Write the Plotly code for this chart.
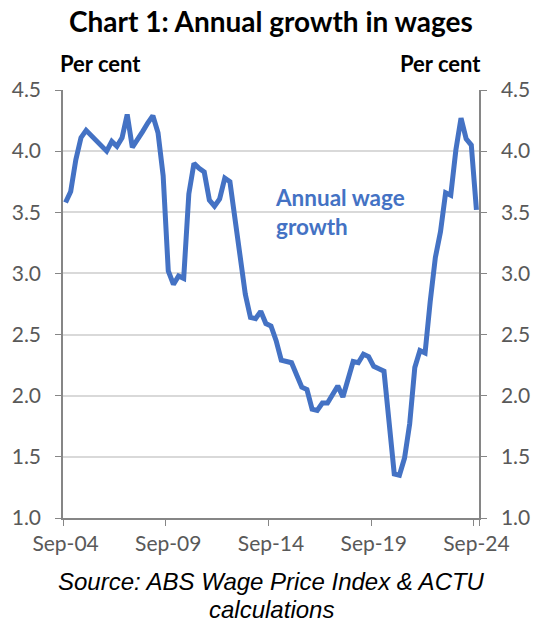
import plotly.graph_objects as go

# Quarterly categories, Sep-04 to Sep-24
month_names = ["Mar", "Jun", "Sep", "Dec"]
quarters = []
year, qi = 2004, 2
for _ in range(81):
    quarters.append(f"{month_names[qi]}-{year % 100:02d}")
    qi += 1
    if qi == 4:
        qi, year = 0, year + 1

# Annual wage growth, per cent
wage_growth = [
    3.58, 3.67, 3.93, 4.11, 4.17, 4.13, 4.09, 4.04, 4.00, 4.08,
    4.04, 4.11, 4.30, 4.03, 4.09, 4.16, 4.23, 4.29, 4.15, 3.80,
    3.02, 2.91, 2.98, 2.96, 3.65, 3.90, 3.86, 3.83, 3.60, 3.55,
    3.61, 3.78, 3.75, 3.45, 3.14, 2.83, 2.64, 2.63, 2.69, 2.59,
    2.57, 2.45, 2.29, 2.28, 2.27, 2.17, 2.07, 2.05, 1.89, 1.88,
    1.94, 1.94, 2.02, 2.08, 1.99, 2.13, 2.28, 2.27, 2.34, 2.32,
    2.24, 2.22, 2.20, 1.78, 1.36, 1.35, 1.49, 1.77, 2.23, 2.37,
    2.35, 2.77, 3.13, 3.34, 3.66, 3.64, 4.01, 4.27, 4.10, 4.05,
    3.52,
]

x_tick_labels = ["Sep-04", "Sep-09", "Sep-14", "Sep-19", "Sep-24"]
y_ticks = [1.0, 1.5, 2.0, 2.5, 3.0, 3.5, 4.0, 4.5]

BLUE = "#4472C4"
AXIS = "#868686"
GRID = "#D9D9D9"
SANS = "Lato, Carlito, Arial"
TICKFONT = dict(family=SANS, size=21, color="#595959")

fig = go.Figure()
fig.add_trace(go.Scatter(
    x=quarters, y=wage_growth, mode="lines",
    line=dict(color=BLUE, width=5), hoverinfo="x+y",
))
# same series on the right-hand axis so it is drawn
fig.add_trace(go.Scatter(
    x=quarters, y=wage_growth, mode="lines", yaxis="y2",
    line=dict(color="rgba(0,0,0,0)", width=0), hoverinfo="skip",
))

fig.update_layout(
    width=534, height=626,
    margin=dict(l=63, r=55, t=90, b=108, autoexpand=False),
    paper_bgcolor="white", plot_bgcolor="white",
    showlegend=False,
    xaxis=dict(
        type="category", range=[-0.5, 80.5],
        tickmode="array", tickvals=x_tick_labels, ticktext=x_tick_labels,
        tickson="boundaries", ticks="outside", ticklen=6, tickcolor=AXIS,
        tickangle=0, ticklabelstandoff=6, automargin=False,
        showline=True, linecolor=AXIS, linewidth=1.5,
        showgrid=False, tickfont=TICKFONT,
    ),
    yaxis=dict(
        range=[1.0, 4.5], tickmode="array", tickvals=y_ticks,
        tickformat=".1f", ticks="outside", ticklen=6, tickcolor=AXIS,
        showline=True, linecolor=AXIS, linewidth=1.5,
        showgrid=True, gridcolor=GRID, gridwidth=1.5, automargin=False,
        zeroline=False, tickfont=TICKFONT, ticklabelstandoff=10,
    ),
    yaxis2=dict(
        range=[1.0, 4.5], tickmode="array", tickvals=y_ticks,
        tickformat=".1f", ticks="outside", ticklen=6, tickcolor=AXIS,
        showline=True, linecolor=AXIS, linewidth=1.5, automargin=False,
        showgrid=False, zeroline=False, ticklabelstandoff=10,
        overlaying="y", side="right", tickfont=TICKFONT,
    ),
)

bold = dict(family=SANS, color="black")
fig.add_annotation(
    text="<b>Chart 1: Annual growth in wages</b>", xref="paper", yref="paper",
    x=0.5, y=1, yshift=69, xanchor="center", yanchor="middle",
    showarrow=False, font=dict(size=28, **bold),
)
fig.add_annotation(
    text="<b>Per cent</b>", xref="paper", yref="paper",
    x=0, y=1, yshift=27, xshift=-5, xanchor="left", yanchor="middle",
    showarrow=False, font=dict(size=22, **bold),
)
fig.add_annotation(
    text="<b>Per cent</b>", xref="paper", yref="paper",
    x=1, y=1, yshift=27, xshift=4, xanchor="right", yanchor="middle",
    showarrow=False, font=dict(size=22, **bold),
)
fig.add_annotation(
    text="<b>Annual wage<br>growth</b>", xref="x", yref="y",
    x=quarters[40], y=3.5, xshift=2, xanchor="left", yanchor="middle",
    align="left", showarrow=False,
    font=dict(family=SANS, size=22.5, color=BLUE),
)

source_font = dict(family="Liberation Sans, Arial", size=24, color="black")
fig.add_annotation(
    text="<i>Source: ABS Wage Price Index &amp; ACTU</i>",
    xref="paper", yref="paper", x=0.5, y=0, yshift=-63,
    xanchor="center", yanchor="middle", showarrow=False, font=source_font,
)
fig.add_annotation(
    text="<i>calculations</i>",
    xref="paper", yref="paper", x=0.5, y=0, yshift=-91,
    xanchor="center", yanchor="middle", showarrow=False, font=source_font,
)

fig.write_html("out.html")
